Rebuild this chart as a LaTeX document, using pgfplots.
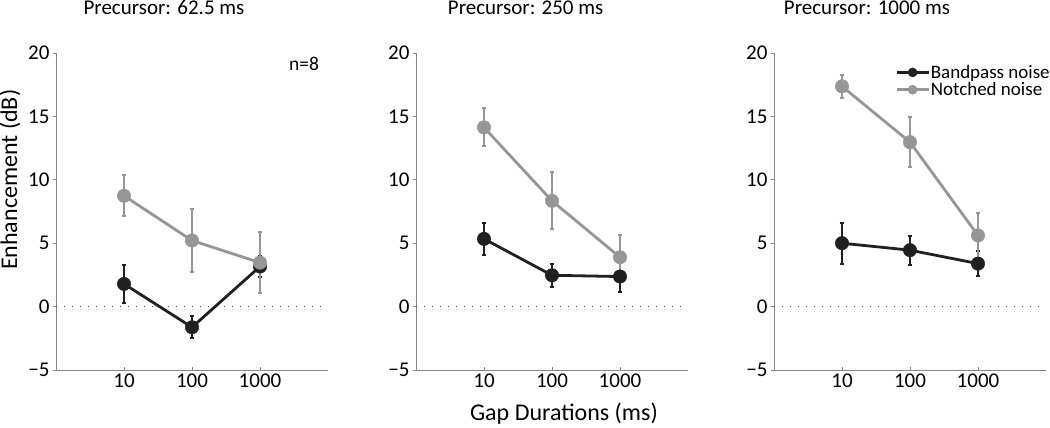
\documentclass[border=0pt]{standalone}
\usepackage{pgfplots}
\pgfplotsset{compat=1.18}
\usepackage{fontspec}
\setmainfont{Carlito}
\definecolor{blk}{RGB}{35,31,32}
\definecolor{gry}{RGB}{150,150,150}
\definecolor{axg}{RGB}{135,135,135}
\definecolor{zdot}{RGB}{80,80,80}
\pgfplotsset{
 every axis/.append style={
  scale only axis, width=272pt, height=317pt, anchor=south west,
  xmin=1, xmax=10000, ymin=-5, ymax=20,
  xtick={10,100,1000}, xticklabels={10,100,1000},
  ytick={-5,0,5,10,15,20}, yticklabels={−5,0,5,10,15,20},
  axis x line=bottom, axis y line=left,
  axis line style={-, axg, line width=0.9pt},
  major tick style={axg, line width=0.9pt},
  major tick length=3pt,
  xtick align=inside, ytick align=outside,
  xminorticks=false,
  tick label style={font=\fontsize{21}{25}\selectfont, black},
  clip=false,
 },
 zline/.style={forget plot, zdot, line width=1.3pt, dash pattern=on 1.3pt off 6.7pt},
 ebar/.style={error bars/y dir=both, error bars/y explicit, error bars/error mark=|,
   error bars/error bar style={line width=2pt}, error bars/error mark options={line width=2pt, mark size=2.3pt}},
 blkplot/.style={blk, line width=2.8pt, mark=*, mark size=6.7pt, mark options={solid, fill=blk, draw=blk, line width=0.5pt}, ebar},
 gryplot/.style={gry, line width=2.8pt, mark=*, mark size=6.7pt, mark options={solid, fill=gry, draw=gry, line width=0.5pt}, ebar},
}
\begin{document}
\begin{tikzpicture}
\path[use as bounding box] (0,0) rectangle (1050pt,428pt);
% Panel 1
\begin{axis}[xmode=log, at={(56pt,58pt)}]
\addplot[zline] coordinates {(1,0) (10000,0)};
\addplot[blkplot] coordinates {(10,1.79) +- (0,1.5) (100,-1.63) +- (0,0.88) (1000,3.16) +- (0,0.8)};
\addplot[gryplot] coordinates {(10,8.74) +- (0,1.6) (100,5.21) +- (0,2.5) (1000,3.47) +- (0,2.4)};
\node[anchor=base, font=\fontsize{21}{25}\selectfont] at ([yshift=38pt]rel axis cs:0.397,1) {Precursor: 62.5 ms};
\node[anchor=base, font=\fontsize{19.5}{22}\selectfont] at ([yshift=-18pt]rel axis cs:0.912,1) {n=8};
\node[rotate=90, anchor=center, font=\fontsize{24}{28}\selectfont] at ([xshift=-46pt]rel axis cs:0,0.6) {Enhancement (dB)};
\end{axis}
% Panel 2
\begin{axis}[xmode=log, at={(416pt,58pt)}]
\addplot[zline] coordinates {(1,0) (10000,0)};
\addplot[blkplot] coordinates {(10,5.34) +- (0,1.27) (100,2.47) +- (0,0.92) (1000,2.37) +- (0,1.2)};
\addplot[gryplot] coordinates {(10,14.13) +- (0,1.5) (100,8.34) +- (0,2.24) (1000,3.89) +- (0,1.72)};
\node[anchor=base, font=\fontsize{21}{25}\selectfont] at ([yshift=38pt]rel axis cs:0.403,1) {Precursor: 250 ms};
\node[anchor=base, font=\fontsize{24}{28}\selectfont] at ([yshift=-51pt]rel axis cs:0.544,0) {Gap Durations (ms)};
\end{axis}
% Panel 3
\begin{axis}[xmode=log, at={(774pt,58pt)},
  legend style={at={(rel axis cs:0.445,0.965)}, anchor=north west, draw=none, fill=none, inner sep=0pt,
    font=\fontsize{19}{21}\selectfont, row sep=1pt, cells={anchor=west}, nodes={inner sep=0.8pt}},
  legend image code/.code={\draw[mark repeat=2,mark phase=2,#1, mark size=4.5pt] plot coordinates {(0pt,0pt)(16pt,0pt)(32pt,0pt)};}]
\addplot[zline] coordinates {(1,0) (10000,0)};
\addplot[blkplot] coordinates {(10,5.0) +- (0,1.62) (100,4.45) +- (0,1.14) (1000,3.39) +- (0,1.0)};
\addlegendentry{Bandpass noise}
\addplot[gryplot] coordinates {(10,17.37) +- (0,0.93) (100,12.97) +- (0,1.95) (1000,5.61) +- (0,1.78)};
\addlegendentry{Notched noise}
\node[anchor=base, font=\fontsize{21}{25}\selectfont] at ([yshift=38pt]rel axis cs:0.342,1) {Precursor: 1000 ms};
\end{axis}
\end{tikzpicture}
\end{document}
